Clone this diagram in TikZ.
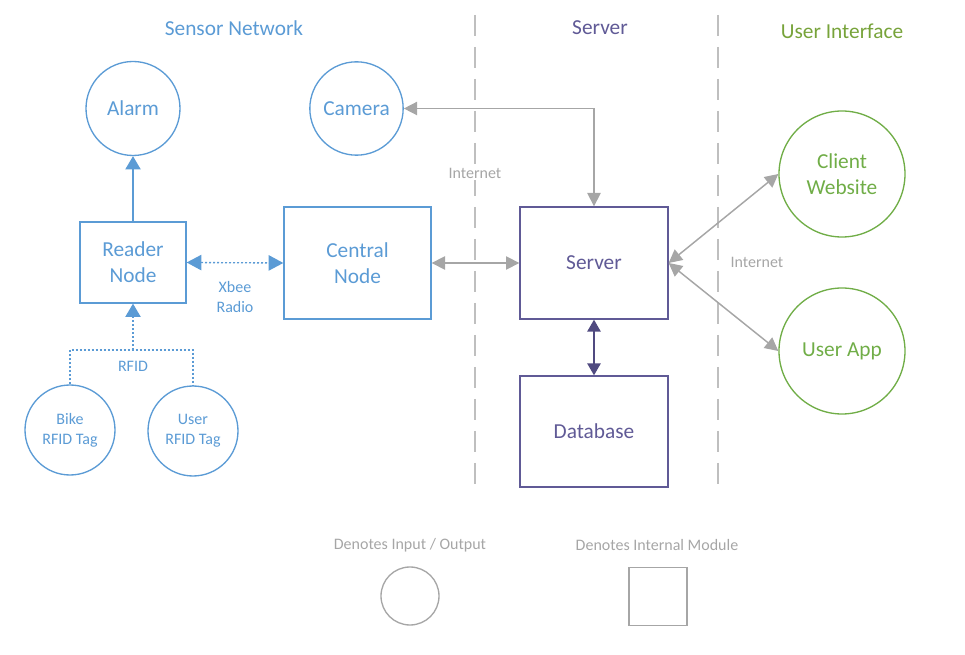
\documentclass[tikz,border=0pt]{standalone}
\usepackage{fontspec}
\setmainfont{Carlito}
\usepackage{xcolor}
\usetikzlibrary{arrows.meta}
\definecolor{netblue}{RGB}{91,155,213}
\definecolor{srvpurple}{RGB}{96,90,150}
\definecolor{dbpurple}{RGB}{80,74,128}
\definecolor{uigreen}{RGB}{112,173,71}
\definecolor{titlegreen}{RGB}{119,163,58}
\definecolor{linkgray}{RGB}{166,166,166}
\definecolor{sepgray}{RGB}{191,191,191}

\begin{document}
\begin{tikzpicture}[x=0.75pt,y=-0.75pt,
  big/.style={font=\fontsize{16}{19.5}\selectfont,align=center},
  small/.style={font=\fontsize{12}{15}\selectfont,align=center},
  io/.style={circle,draw,line width=1pt,inner sep=0pt},
  module/.style={rectangle,draw,line width=1pt,inner sep=0pt},
  radio/.style={netblue,line width=1pt,dash pattern=on 1.5pt off 1.5pt},
  bluetip/.style={-{Triangle[width=11.5pt,length=10pt]}},
  graytip/.style={{Triangle[width=10pt,length=10pt]}-{Triangle[width=10pt,length=10pt]},linkgray,line width=1.1pt},
  sep/.style={sepgray,line width=1.1pt,dash pattern=on 16pt off 8pt}]
  \useasboundingbox (0,0) rectangle (965,655);
  % column titles
  \node[big,netblue] (tsensor) at (234,28) {Sensor Network};
  \node[big,srvpurple] (tserver) at (600,28) {Server};
  \node[big,titlegreen] (tui) at (842,31) {User Interface};
  \draw[sep] (475,15) -- (475,485);
  \draw[sep] (718,15) -- (718,490);
  % sensor network
  \node[io,big,netblue,minimum size=70.5pt] (alarm) at (133,108.5) {Alarm};
  \node[io,big,netblue,minimum size=70pt] (camera) at (356.5,108.5) {Camera};
  \node[module,big,netblue,minimum width=79.5pt,minimum height=60.75pt] (reader) at (133,262.5) {Reader\\Node};
  \node[module,big,netblue,minimum width=110.25pt,minimum height=84pt] (central) at (357.5,263) {Central\\Node};
  \node[io,small,netblue,minimum size=67.5pt] (bike) at (70,430) {Bike\\RFID Tag};
  \node[io,small,netblue,minimum size=67.5pt] (usertag) at (193,431) {User\\RFID Tag};
  \coordinate (rfidjoin) at (133,350);
  \draw[netblue,line width=1pt,bluetip] (reader) -- (alarm);
  \draw[radio] (bike.north) |- (rfidjoin) -| (usertag.north);
  \draw[radio,bluetip] (rfidjoin) -- (reader.south);
  \node[small,netblue] (rfidlbl) at (133,366) {RFID};
  \draw[radio,{Triangle[width=11.5pt,length=11pt]}-{Triangle[width=11.5pt,length=11pt]}] (reader.east) -- (central.west);
  \node[small,netblue] (xbeelbl) at (235,297) {Xbee\\Radio};
  % server
  \node[module,big,srvpurple,minimum width=111pt,minimum height=84pt] (server) at (594,263) {Server};
  \node[module,big,srvpurple,minimum width=111pt,minimum height=83.25pt] (database) at (594,431.5) {Database};
  \draw[dbpurple,line width=1.3pt,{Triangle[width=10pt,length=9pt]}-{Triangle[width=10pt,length=9pt]}] (server.south) -- (database.north);
  \draw[graytip] (camera.east) -| (server.north);
  \draw[graytip] (central.east) -- (server.west);
  \node[small,linkgray,fill=white,inner sep=1pt] (inet1) at (475,173) {Internet};
  % user interface
  \node[io,big,uigreen,minimum size=94.5pt] (client) at (842,174) {Client\\Website};
  \node[io,big,uigreen,minimum size=94.5pt] (userapp) at (842,351) {User App};
  \draw[graytip] (server.east) -- (client.west);
  \draw[graytip] (server.east) -- (userapp.west);
  \node[small,linkgray] (inet2) at (757,262) {Internet};
  % legend
  \node[small,linkgray] (lgio) at (410,545) {Denotes Input / Output};
  \node[io,linkgray,minimum size=43.5pt] (lgcircle) at (410,596) {};
  \node[small,linkgray] (lgmod) at (657,545) {Denotes Internal Module};
  \node[module,linkgray,minimum size=43.5pt] (lgsquare) at (658,596.5) {};
\end{tikzpicture}
\end{document}
